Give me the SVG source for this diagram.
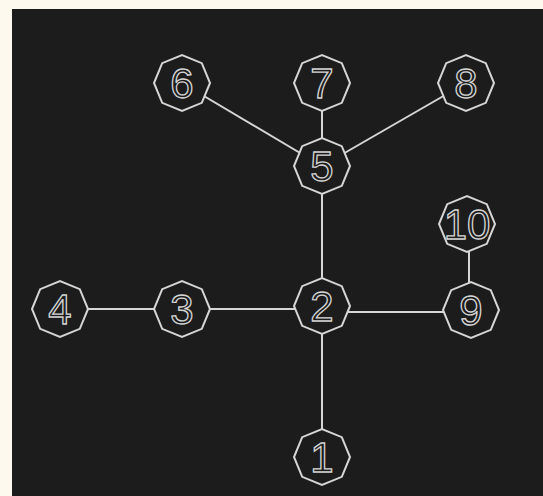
<svg xmlns="http://www.w3.org/2000/svg" xmlns:xlink="http://www.w3.org/1999/xlink" width="543" height="496" viewBox="0 0 543 496">
<style>
.edge{stroke:#d6d6d6;stroke-width:2;fill:none}
.oct{stroke:#d6d6d6;stroke-width:2;fill:#1c1c1c;stroke-linejoin:miter}
.lbl{font-family:"Liberation Sans",Arial,sans-serif;font-size:42px;fill:none;stroke:#d6d6d6;stroke-width:1.3;text-anchor:middle}
</style>
<defs>
<polygon id="oct" points="28,0 19.8,19.8 0,28 -19.8,19.8 -28,0 -19.8,-19.8 0,-28 19.8,-19.8"/>
</defs>
<rect x="0" y="0" width="543" height="496" fill="#fdf9ee"/>
<rect x="12" y="9" width="531" height="487" fill="#1c1c1c"/>
<g id="edges">
<line class="edge" x1="182" y1="83" x2="322" y2="166"/>
<line class="edge" x1="322" y1="83" x2="322" y2="166"/>
<line class="edge" x1="466" y1="83" x2="322" y2="166"/>
<line class="edge" x1="322" y1="166" x2="322" y2="306"/>
<line class="edge" x1="60" y1="309" x2="182" y2="309"/>
<line class="edge" x1="182" y1="309" x2="322" y2="309"/>
<line class="edge" x1="330" y1="312" x2="465" y2="312"/>
<line class="edge" x1="469" y1="224" x2="469" y2="310"/>
<line class="edge" x1="322" y1="306" x2="322" y2="457"/>
</g>
<g id="n1"><use xlink:href="#oct" x="322" y="457" class="oct"/><text class="lbl" x="322" y="472">1</text></g>
<g id="n2"><use xlink:href="#oct" x="322" y="306" class="oct"/><text class="lbl" x="322" y="321">2</text></g>
<g id="n3"><use xlink:href="#oct" x="182" y="309" class="oct"/><text class="lbl" x="182" y="324">3</text></g>
<g id="n4"><use xlink:href="#oct" x="60" y="309" class="oct"/><text class="lbl" x="60" y="324">4</text></g>
<g id="n5"><use xlink:href="#oct" x="322" y="166" class="oct"/><text class="lbl" x="322" y="181">5</text></g>
<g id="n6"><use xlink:href="#oct" x="182" y="83" class="oct"/><text class="lbl" x="182" y="98">6</text></g>
<g id="n7"><use xlink:href="#oct" x="322" y="83" class="oct"/><text class="lbl" x="322" y="98">7</text></g>
<g id="n8"><use xlink:href="#oct" x="466" y="83" class="oct"/><text class="lbl" x="466" y="98">8</text></g>
<g id="n9"><use xlink:href="#oct" x="471" y="310" class="oct"/><text class="lbl" x="471" y="325">9</text></g>
<g id="n10"><use xlink:href="#oct" x="467" y="224" class="oct"/><text class="lbl" x="467" y="239">10</text></g>
</svg>
